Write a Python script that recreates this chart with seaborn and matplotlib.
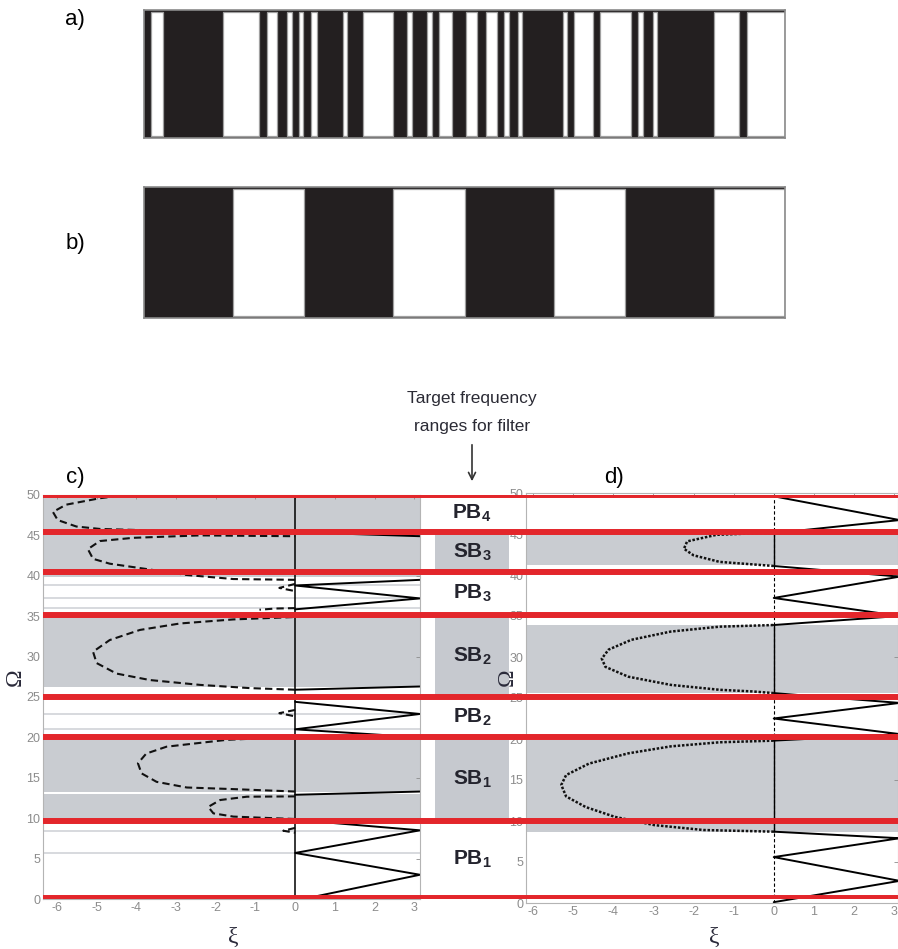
import numpy as np
import pandas as pd
import matplotlib
matplotlib.use("Agg")
import matplotlib.pyplot as plt
import seaborn as sns

# ------------------------------------------------------------------
# data
# ------------------------------------------------------------------
# layer thicknesses, alternating black / white, starting with black
layers_a = [0.7, 1.2, 6.0, 3.6, 0.8, 1.0, 1.0, 0.5, 0.7, 0.4, 0.8, 0.6, 2.6, 0.4,
            1.6, 3.0, 1.4, 0.5, 1.5, 0.5, 0.7, 1.3, 1.3, 1.1, 0.9, 1.1, 0.7, 0.5,
            0.9, 0.4, 4.1, 0.4, 0.7, 1.9, 0.7, 3.1, 0.7, 0.5, 1.0, 0.4, 5.7, 2.5,
            0.8, 3.8]
layers_b = [8.9, 7.1, 8.9, 7.1, 8.9, 7.1, 8.9, 7.1]

# target frequency ranges (red lines) and their names
target_edges = [0.1, 9.65, 20.0, 25.0, 35.1, 40.5, 45.4, 50.06]
target_names = ["PB_1", "SB_1", "PB_2", "SB_2", "PB_3", "SB_3", "PB_4"]

xi_ticks = [-6, -5, -4, -3, -2, -1, 0, 1, 2, 3]
om_ticks = [0, 5, 10, 15, 20, 25, 30, 35, 40, 45, 50]

# c) aperiodic structure
c_stops = [(9.75, 12.95), (13.2, 19.9), (26.2, 34.95), (39.9, 50.5)]
c_edges = [5.7, 8.45, 21.0, 22.9, 36.0, 37.3, 38.8]
c_re_xi = [[0, 3.14, 0, 3.14, 0],
           [0, 3.14],
           [3.14, 0, 3.14, 0],
           [0, 3.14],
           [0, 3.14, 0, 3.14],
           [0, 3.14]]
c_re_om = [[-0.2, 3.0, 5.7, 8.5, 9.8],
           [12.9, 13.3],
           [20.0, 21.0, 22.9, 24.4],
           [25.9, 26.3],
           [35.85, 37.2, 38.8, 39.5],
           [45.4, 44.9]]
c_im_xi = [[0, -1.22, -1.89, -2.19, -2.06, -1.56, -0.55, 0],
           [0, -1.56, -2.73, -3.49, -3.87, -3.96, -3.75, -3.24, -1.72, -0.6, 0],
           [0, -1.14, -2.4, -3.66, -4.5, -5.0, -5.09, -4.67, -3.91, -2.9, -1.56, 0],
           [0, -1.56, -2.73, -3.83, -4.67, -5.09, -5.22, -4.92, -4.08, -2.4, 0],
           [0, -3.5, -4.92, -5.51, -5.98, -6.1, -5.77, -4.92, -4.25, -3.0],
           [0, -0.3, 0],
           [0, -0.4, 0],
           [0, -0.4, 0],
           [0, -0.5, -0.9]]
c_im_om = [[12.7, 12.66, 12.25, 11.4, 10.6, 10.2, 10.0, 9.9],
           [13.3, 13.6, 13.8, 14.5, 15.55, 16.8, 18.0, 18.85, 19.7, 19.95, 20.0],
           [25.9, 26.1, 26.5, 27.1, 27.9, 29.2, 30.6, 32.05, 33.3, 34.1, 34.6, 34.9],
           [39.5, 39.6, 40.1, 40.9, 41.5, 42.1, 43.3, 44.3, 44.7, 45.0, 44.9],
           [45.5, 45.6, 45.8, 46.1, 46.9, 47.9, 48.8, 49.6, 50.0, 50.4],
           [8.8, 8.45, 8.2],
           [23.4, 23.0, 22.6],
           [39.0, 38.5, 38.1],
           [36.0, 35.95, 35.8]]

# d) periodic structure
d_stops = [(8.7, 19.9), (25.6, 33.9), (41.2, 45.0)]
d_re_xi = [[0, 3.14, 0, 3.14, 0],
           [0, 3.14, 0, 3.14, 0],
           [0, 3.14, 0, 3.14, 0],
           [0, 3.14, 0]]
d_re_om = [[0.1, 2.7, 5.6, 7.9, 8.7],
           [19.8, 20.6, 22.5, 24.4, 25.6],
           [33.9, 35.0, 37.2, 39.8, 41.1],
           [45.1, 46.7, 49.6]]
d_im_xi = [[0, -1.75, -2.98, -3.96, -4.69, -5.18, -5.3, -5.18, -4.61, -3.63, -2.57, -1.35, 0],
           [0, -0.53, -1.35, -2.57, -3.63, -4.2, -4.29, -4.12, -3.55, -2.57, -1.35, 0],
           [0, -1.35, -2.0, -2.24, -2.16, -1.43, -0.4, 0]]
d_im_om = [[8.7, 8.9, 9.5, 10.5, 11.7, 13.0, 14.4, 15.6, 17.0, 18.25, 19.1, 19.6, 19.8],
           [25.6, 25.8, 26.0, 26.6, 27.6, 28.8, 29.8, 30.9, 32.1, 33.1, 33.7, 33.9],
           [41.1, 41.6, 42.4, 43.2, 44.1, 44.9, 45.1, 45.1]]

# ------------------------------------------------------------------
# style
# ------------------------------------------------------------------
sns.set_style("white")
plt.rcParams["font.family"] = ["Liberation Sans", "DejaVu Sans"]
plt.rcParams["mathtext.fontset"] = "custom"
plt.rcParams["mathtext.rm"] = "Liberation Sans"
plt.rcParams["mathtext.bf"] = "Liberation Sans:bold"
plt.rcParams["axes.unicode_minus"] = False

INK = "#231f20"
GRAY = "#c9ccd1"
RED = "#e3262b"
TICK = "#8c8c8c"

W, H = 898, 949
fig = plt.figure(figsize=(W / 100, H / 100), dpi=100)


def box(x0, y0, x1, y1):
    # pixel box (top-left origin) -> figure rect
    return [x0 / W, 1 - y1 / H, (x1 - x0) / W, (y1 - y0) / H]


def segments(xs, ys):
    rows = []
    for k, (sx, sy) in enumerate(zip(xs, ys)):
        rows += [(k, a, b) for a, b in zip(sx, sy)]
    return pd.DataFrame(rows, columns=["seg", "xi", "om"])


def draw_layers(ax, widths):
    widths = np.asarray(widths)
    left = np.concatenate([[0], np.cumsum(widths)[:-1]])
    dark = np.arange(len(widths)) % 2 == 0
    ax.set_facecolor(INK)
    ax.bar(left[dark], 1, width=widths[dark], align="edge", color=INK, lw=0)
    ax.bar(left[~dark], 0.964, bottom=0.018, width=widths[~dark], align="edge",
           color="white", edgecolor="#a0a0a0", lw=0.9)
    ax.set_xlim(0, widths.sum())
    ax.set_ylim(0, 1)
    ax.set_xticks([])
    ax.set_yticks([])
    for s in ax.spines.values():
        s.set_color("#8a8a8a")
        s.set_linewidth(1.2)


def draw_band_panel(ax, stops, edges, re_xi, re_om, im_xi, im_om, im_ls, im_lw, xlim):
    for lo, hi in stops:
        ax.axhspan(lo, hi, color=GRAY, lw=0, zorder=0)
    for e in edges:
        ax.axhline(e, color="#cdd0d5", lw=1.1, zorder=0.5)
    sns.lineplot(data=segments(re_xi, re_om), x="xi", y="om", units="seg",
                 estimator=None, sort=False, color="black", lw=1.4, ax=ax, legend=False)
    sns.lineplot(data=segments(im_xi, im_om), x="xi", y="om", units="seg",
                 estimator=None, sort=False, color="#111111", lw=im_lw, ls=im_ls,
                 ax=ax, legend=False)
    ax.set(xlabel="", ylabel="")
    ax.set_xlim(*xlim)
    ax.set_ylim(0, 50)
    ax.set_xticks(xi_ticks)
    ax.set_yticks(om_ticks)
    ax.tick_params(direction="in", length=3, width=0.6, color=TICK, labelcolor=TICK,
                   labelsize=9, pad=2, top=True, right=True)
    for lab in ax.get_xticklabels() + ax.get_yticklabels():
        lab.set_fontfamily(["Liberation Sans Narrow", "Liberation Sans"])
    for s in ax.spines.values():
        s.set_color("#b4b4b4")
        s.set_linewidth(0.8)


# ------------------------------------------------------------------
# a) and b): layered structures
# ------------------------------------------------------------------
ax_a = fig.add_axes(box(144, 10, 785, 138))
draw_layers(ax_a, layers_a)
ax_b = fig.add_axes(box(144, 187, 785, 318))
draw_layers(ax_b, layers_b)

# ------------------------------------------------------------------
# c) and d): band structures
# ------------------------------------------------------------------
ax_c = fig.add_axes(box(43, 495, 420, 899))
draw_band_panel(ax_c, c_stops, c_edges, c_re_xi, c_re_om, c_im_xi, c_im_om,
                (0, (3.5, 2.0)), 1.5, (-6.35, np.pi))
ax_c.axvline(0, color="black", lw=1.1, zorder=1)

ax_d = fig.add_axes(box(526, 493, 898, 903))
draw_band_panel(ax_d, d_stops, [], d_re_xi, d_re_om, d_im_xi, d_im_om,
                (0, (1.0, 0.7)), 1.8, (-6.18, 3.1))
ax_d.axvline(0, color="black", lw=0.8, ls=(0, (3, 2)), zorder=1)
for lo, hi in d_stops:
    ax_d.vlines(0, lo, hi, color="black", lw=1.0, zorder=1)

# target bands between the two panels
ax_mid = fig.add_axes(box(420, 495, 526, 899))
ax_mid.set_xlim(0, 1)
ax_mid.set_ylim(0, 50)
ax_mid.axis("off")
for name, lo, hi in zip(target_names, target_edges[:-1], target_edges[1:]):
    if name.startswith("SB"):
        ax_mid.fill_between([0.14, 0.84], lo, hi, color="#c6c9cf", lw=0)
    n, k = name.split("_")
    ax_mid.text(0.49, (lo + hi) / 2, rf"$\mathbf{{{n}}}_{{\mathbf{{{k}}}}}$",
                ha="center", va="center", fontsize=15, color="#24242e")

# red target lines across c, middle and d
ax_red = fig.add_axes(box(43, 495, 898, 899))
ax_red.set_xlim(0, 1)
ax_red.set_ylim(0, 50)
ax_red.axis("off")
ax_red.set_zorder(10)
ax_red.hlines(target_edges, 0, 1, color=RED, lw=4.3)

# ------------------------------------------------------------------
# labels
# ------------------------------------------------------------------
for txt, x, y in [("a)", 75, 20), ("b)", 75, 243), ("c)", 75, 478), ("d)", 614, 478)]:
    fig.text(x / W, 1 - y / H, txt, ha="center", va="center", fontsize=16, color="black")

for x in (15, 507):
    fig.text(x / W, 1 - 677 / H, "Ω", rotation=90, ha="center", va="center",
             fontsize=17, color="#2a2a3a", family=["Liberation Serif", "DejaVu Serif"])
for x in (233, 714):
    fig.text(x / W, 1 - 937 / H, "ξ", ha="center", va="center",
             fontsize=17, color="#2a2a3a", family=["Liberation Serif", "DejaVu Serif"])

narrow = ["Liberation Sans Narrow", "Liberation Sans"]
fig.text(472 / W, 1 - 398 / H, "Target frequency", ha="center", va="center",
         fontsize=12.5, color="#2b2b35", family=narrow)
fig.text(472 / W, 1 - 426 / H, "ranges for filter", ha="center", va="center",
         fontsize=12.5, color="#2b2b35", family=narrow)
fig.add_artist(matplotlib.patches.FancyArrowPatch(
    (472 / W, 1 - 442 / H), (472 / W, 1 - 484 / H), transform=fig.transFigure,
    arrowstyle="->,head_length=5,head_width=2.5", color="#333333", lw=1.2))

fig.savefig("out.png", dpi=100)
